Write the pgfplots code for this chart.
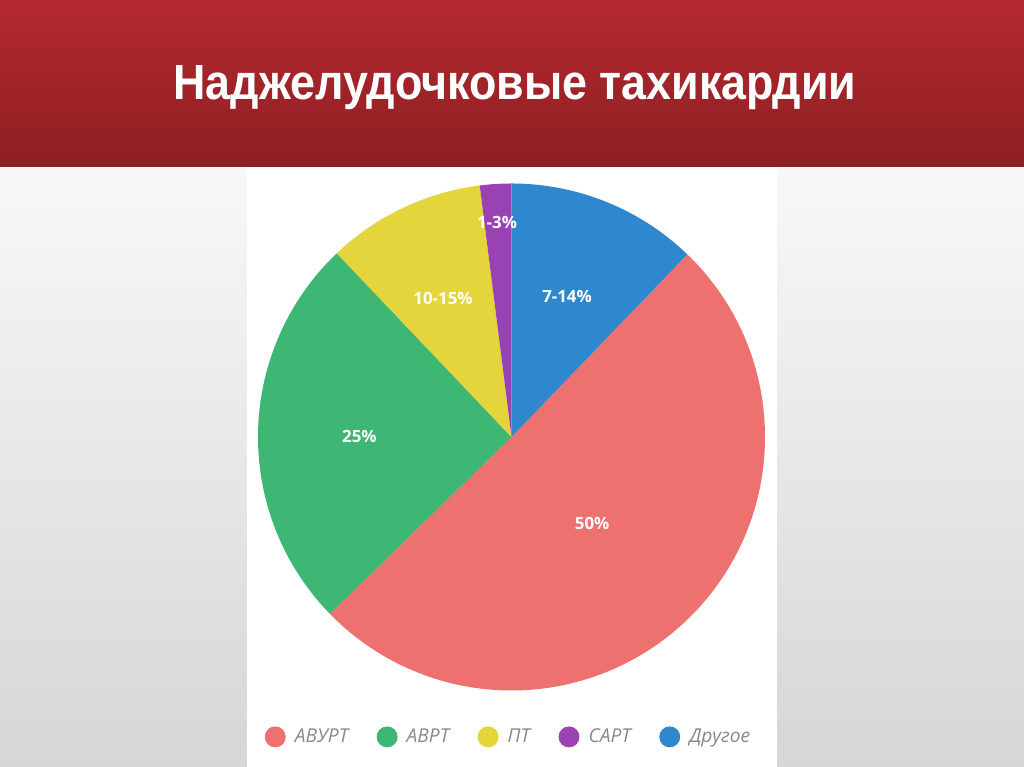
\documentclass[border=0pt]{standalone}
\usepackage{pgfplots}
\pgfplotsset{compat=1.18}
\usepackage{pgfplotstable}
\usepackage{fontspec}
\setmainfont{Liberation Sans}
\newfontfamily\labfont{Open Sans}

\definecolor{hdrTop}{HTML}{B4292F}
\definecolor{hdrBot}{HTML}{8D1F23}
\definecolor{bgTop}{HTML}{F8F8F8}
\definecolor{bgBot}{HTML}{D6D6D6}
\definecolor{pieRed}{HTML}{EC716F}
\definecolor{pieGreen}{HTML}{3EB775}
\definecolor{pieYellow}{HTML}{E3D53B}
\definecolor{piePurple}{HTML}{9A42B4}
\definecolor{pieBlue}{HTML}{2F87CD}
\definecolor{legText}{HTML}{888888}

% share in percent, clockwise; lx/ly = label spot
\pgfplotstableread[col sep=comma]{
name,share,colour,label,lx,ly
АВУРТ,50.5,pieRed,50,0.318,-0.343
АВРТ,25.2,pieGreen,25,-0.600,0.004
ПТ,10.1,pieYellow,10-15,-0.270,0.548
САРТ,2.0,piePurple,1-3,-0.057,0.848
Другое,12.2,pieBlue,7-14,0.219,0.556
}\pietable

\begin{document}
\begin{tikzpicture}
% slide background (1px = 1/64 cm)
\useasboundingbox (0,0) rectangle (16,-11.984);
\shade[top color=bgTop, bottom color=bgBot] (0,-2.609) rectangle (16,-11.984);
\fill[white] (3.859,-2.609) rectangle (12.141,-11.984);
\shade[top color=hdrTop, bottom color=hdrBot] (0,0) rectangle (16,-2.609);
\node[anchor=base west, inner sep=0pt, text=white] at (2.703,-1.547)
  {\resizebox{10.672cm}{0.531cm}{\bfseries Наджелудочковые тахикардии}};

% start angle: last slice ends at 12 o'clock
\pgfplotstablegetelem{4}{share}\of\pietable
\pgfmathsetmacro\pieacc{90-3.6*\pgfplotsretval}
\xdef\pieacc{\pieacc}
\foreach \i in {0,...,4}{
  \pgfplotstablegetelem{\i}{share}\of\pietable
  \pgfmathsetmacro\pieend{\pieacc-3.6*\pgfplotsretval}
  \expandafter\xdef\csname pieS\i\endcsname{\pieacc}
  \expandafter\xdef\csname pieE\i\endcsname{\pieend}
  \xdef\pieacc{\pieend}
}
\def\pieR{3.961cm}

\begin{axis}[
    x=3.961cm, y=3.961cm,
    xmin=-1, xmax=1, ymin=-1, ymax=1,
    at={(7.992cm,-6.828cm)}, anchor=origin,
    hide axis, clip=false,
    legend columns=-1,
    legend style={
        at={(axis cs:-0.006,-1.183)}, anchor=center,
        draw=none, fill=none,
        font=\labfont\itshape\fontsize{8.5}{10}\selectfont,
        text=legText,
        /tikz/every odd column/.append style={column sep=0.08cm},
        /tikz/every even column/.append style={column sep=0.38cm}
    },
]
\pgfplotsinvokeforeach{0,...,4}{
  \pgfplotstablegetelem{#1}{colour}\of\pietable
  \edef\tmp{\noexpand\fill[\pgfplotsretval]
    (axis cs:0,0) -- (axis cs:{cos(\csname pieS#1\endcsname)},{sin(\csname pieS#1\endcsname)})
    arc[start angle=\csname pieS#1\endcsname, end angle=\csname pieE#1\endcsname, radius=\pieR] -- cycle;
    \noexpand\addlegendimage{only marks, mark=*, mark size=0.156cm,
      draw=\pgfplotsretval, fill=\pgfplotsretval}}
  \tmp
  \pgfplotstablegetelem{#1}{name}\of\pietable
  \edef\tmp{\noexpand\addlegendentry{\pgfplotsretval}}
  \tmp
}
\pgfplotsinvokeforeach{0,...,4}{
  \pgfplotstablegetelem{#1}{lx}\of\pietable \let\lx\pgfplotsretval
  \pgfplotstablegetelem{#1}{ly}\of\pietable \let\ly\pgfplotsretval
  \pgfplotstablegetelem{#1}{label}\of\pietable
  \edef\tmp{\noexpand\node[text=white, font=\noexpand\labfont\noexpand\bfseries\noexpand\fontsize{7.5}{9}\noexpand\selectfont]
    at (axis cs:\lx,\ly) {\pgfplotsretval\noexpand\%};}
  \tmp
}
\end{axis}
\end{tikzpicture}
\end{document}
